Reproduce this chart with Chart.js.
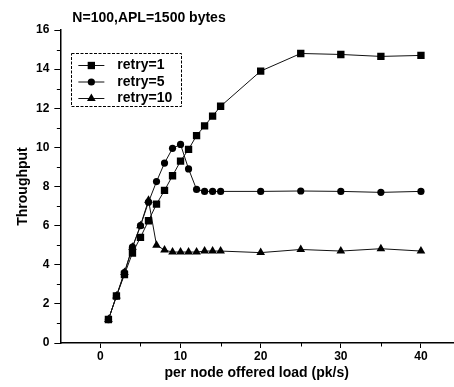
<!DOCTYPE html>
<html>
<head>
<meta charset="utf-8">
<script src="https://cdn.jsdelivr.net/npm/chart.js@4/dist/chart.umd.min.js"></script>
<style>
  html, body { margin: 0; padding: 0; background: #fff; }
  #wrap { width: 454px; height: 387px; }
</style>
</head>
<body>
<div id="wrap"><canvas id="throughputChart" width="454" height="387"></canvas></div>
<script>
// per node offered load (pk/s)
const load = [1, 2, 3, 4, 5, 6, 7, 8, 9, 10, 11, 12, 13, 14, 15, 20, 25, 30, 35, 40];
const retry1 = [1.2, 2.4, 3.5, 4.6, 5.4, 6.25, 7.1, 7.8, 8.55, 9.3, 9.9, 10.6, 11.1, 11.6, 12.1, 13.9, 14.8, 14.75, 14.65, 14.7];
const retry5 = [1.2, 2.4, 3.6, 4.9, 6.0, 7.2, 8.25, 9.2, 9.95, 10.15, 8.9, 7.85, 7.75, 7.75, 7.75, 7.75, 7.77, 7.75, 7.7, 7.75];
const retry10 = [1.2, 2.4, 3.6, 4.9, 6.0, 7.3, 5.0, 4.75, 4.65, 4.65, 4.65, 4.65, 4.7, 4.7, 4.7, 4.62, 4.78, 4.7, 4.82, 4.7];

const seriesNames = ['retry=1', 'retry=5', 'retry=10'];
const xMajor = [0, 10, 20, 30, 40];
const xMinor = [5, 15, 25, 35];
const yMajor = [0, 2, 4, 6, 8, 10, 12, 14, 16];
const yMinor = [1, 3, 5, 7, 9, 11, 13, 15];
const chartTitle = 'N=100,APL=1500 bytes';

const FONT = '"Liberation Sans", Arial, sans-serif';
const pts = arr => load.map((x, i) => ({ x, y: arr[i] }));

function series(label, values, style, radius) {
  return {
    label,
    data: pts(values),
    borderColor: '#111',
    borderWidth: 1,
    backgroundColor: '#000',
    pointStyle: style,
    pointRadius: radius,
    pointBorderWidth: 0,
    pointBackgroundColor: '#000',
    tension: 0
  };
}

const extras = {
  id: 'extras',
  afterDraw(chart) {
    const { ctx, chartArea, scales: { x, y } } = chart;
    ctx.save();
    ctx.strokeStyle = '#000';
    ctx.lineWidth = 1;
    // minor ticks
    yMinor.forEach(v => {
      const py = Math.round(y.getPixelForValue(v)) + 0.5;
      ctx.beginPath();
      ctx.moveTo(chartArea.left - 3.5, py);
      ctx.lineTo(chartArea.left, py);
      ctx.stroke();
    });
    xMinor.forEach(v => {
      const px = Math.round(x.getPixelForValue(v)) + 0.5;
      ctx.beginPath();
      ctx.moveTo(px, chartArea.bottom);
      ctx.lineTo(px, chartArea.bottom + 3.5);
      ctx.stroke();
    });

    // title
    ctx.fillStyle = '#000';
    ctx.font = 'bold 14px ' + FONT;
    ctx.textBaseline = 'middle';
    ctx.textAlign = 'left';
    ctx.fillText(chartTitle, chartArea.left + 12, chartArea.top - 12);

    // legend box
    const bx = chartArea.left + 11, by = chartArea.top + 23;
    ctx.setLineDash([3, 1.5]);
    ctx.strokeRect(Math.round(bx) + 0.5, Math.round(by) + 0.5, 110, 53);
    ctx.setLineDash([]);
    chart.data.datasets.forEach((ds, i) => {
      const ly = by + 12.5 + i * 16.5;
      ctx.strokeStyle = '#111';
      ctx.beginPath();
      ctx.moveTo(bx + 7, ly);
      ctx.lineTo(bx + 33, ly);
      ctx.stroke();
      ctx.fillStyle = '#000';
      Chart.helpers.drawPoint(ctx, { pointStyle: ds.pointStyle, radius: ds.pointRadius, rotation: 0, borderWidth: 0 }, bx + 20, ly);
      ctx.fillStyle = '#000';
      ctx.font = 'bold 14px ' + FONT;
      ctx.fillText(ds.label, bx + 46, ly);
    });
    ctx.restore();
  }
};

const ctx = document.getElementById('throughputChart').getContext('2d');
new Chart(ctx, {
  type: 'line',
  data: {
    datasets: [
      series(seriesNames[0], retry1, 'rect', 5.2),
      series(seriesNames[1], retry5, 'circle', 3.6),
      series(seriesNames[2], retry10, 'triangle', 5)
    ]
  },
  options: {
    responsive: false,
    animation: false,
    layout: { autoPadding: false, padding: { top: 30, left: 16, right: 1, bottom: 7 } },
    plugins: {
      legend: { display: false },
      title: { display: false },
      tooltip: { enabled: false }
    },
    scales: {
      x: {
        type: 'linear',
        min: -5,
        max: 44,
        afterBuildTicks: s => { s.ticks = xMajor.map(v => ({ value: v })); },
        afterFit: s => { s.paddingRight = 0; },
        grid: { drawOnChartArea: false, tickLength: 5, tickColor: '#000', tickWidth: 1 },
        border: { display: true, color: '#000', width: 1.5 },
        ticks: { color: '#000', font: { family: FONT, size: 12, weight: 'bold', lineHeight: 1 }, padding: 3, maxRotation: 0 },
        title: { display: true, text: 'per node offered load (pk/s)', color: '#000', font: { family: FONT, size: 14, weight: 'bold', lineHeight: 1 }, padding: { top: 0, bottom: 0 } }
      },
      y: {
        min: 0,
        max: 16,
        afterBuildTicks: s => { s.ticks = yMajor.map(v => ({ value: v })); },
        grid: { drawOnChartArea: false, tickLength: 6, tickColor: '#000', tickWidth: 1 },
        border: { display: true, color: '#000', width: 1.5 },
        ticks: { color: '#000', font: { family: FONT, size: 12, weight: 'bold' }, padding: 5 },
        title: { display: true, text: 'Throughput', color: '#000', font: { family: FONT, size: 14, weight: 'bold', lineHeight: 1 }, padding: { top: 0, bottom: 1 } }
      }
    }
  },
  plugins: [extras]
});
</script>
</body>
</html>
